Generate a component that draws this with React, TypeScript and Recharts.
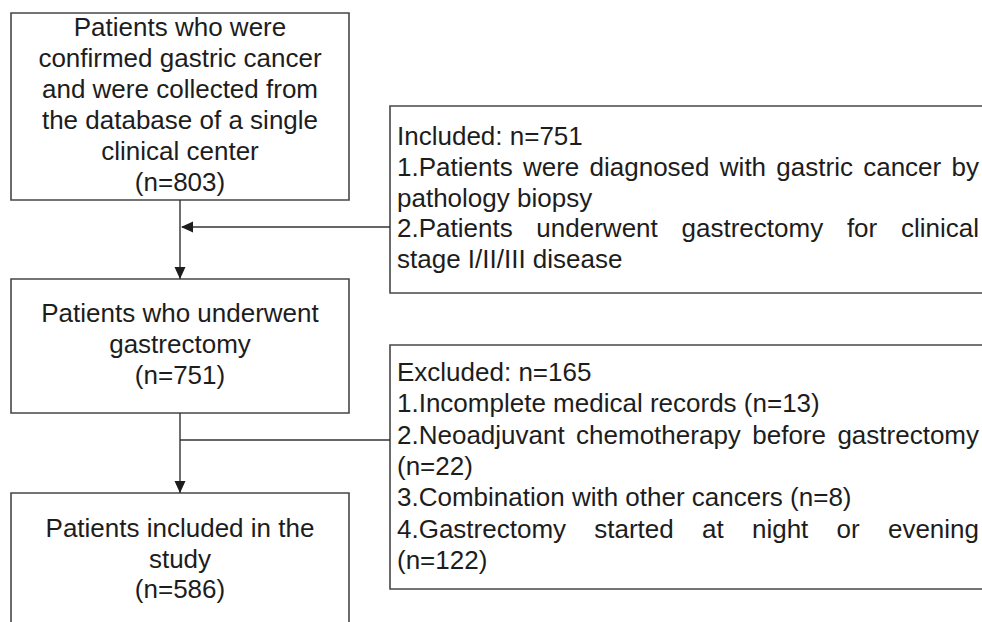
import React from 'react';
import { ComposedChart, XAxis, YAxis, ReferenceArea, ReferenceLine, Scatter } from 'recharts';

const W = 982;
const H = 622;

// ---- text content ----
const box1Lines = ['Patients who were', 'confirmed gastric cancer', 'and were collected from', 'the database of a single', 'clinical center', '(n=803)'];
const box2Lines = ['Patients who underwent', 'gastrectomy', '(n=751)'];
const box3Lines = ['Patients included in the', 'study', '(n=586)'];
const includedLines = ['Included: n=751', '1.Patients were diagnosed with gastric cancer by', 'pathology biopsy', '2.Patients underwent gastrectomy for clinical', 'stage I/II/III disease'];
const includedJustify = [false, true, false, true, false];
const excludedLines = ['Excluded: n=165', '1.Incomplete medical records (n=13)', '2.Neoadjuvant chemotherapy before gastrectomy', '(n=22)', '3.Combination with other cancers (n=8)', '4.Gastrectomy started at night or evening', '(n=122)'];
const excludedJustify = [false, false, true, false, false, true, false];

// ---- layout ----
const boxes = [
  { x1: 11, x2: 349, y1: 13, y2: 200 },
  { x1: 11, x2: 349, y1: 279, y2: 413 },
  { x1: 11, x2: 349, y1: 493, y2: 660 },
  { x1: 390, x2: 1010, y1: 106, y2: 293 },
  { x1: 390, x2: 1010, y1: 345, y2: 589 },
];
const segments = [
  [{ x: 180, y: 200 }, { x: 180, y: 279 }],
  [{ x: 182, y: 227 }, { x: 390, y: 227 }],
  [{ x: 180, y: 413 }, { x: 180, y: 493 }],
  [{ x: 180, y: 440 }, { x: 390, y: 440 }],
];
const arrowHeads = [
  { x: 181, y: 227, dir: 'left' },
  { x: 180, y: 279, dir: 'down' },
  { x: 180, y: 493, dir: 'down' },
];

const CENTER_X = 180;
const LEFT_TEXT_X = 397;
const JUSTIFY_RIGHT = 979;
const BIG_FONT = 26;
const SMALL_FONT = 26;
const FONT_FAMILY = '"Liberation Sans", Arial, sans-serif';

const centerText = (lines: string[], firstBaseline: number, step: number) =>
  lines.map((t, i) => ({ x: CENTER_X, y: firstBaseline + i * step, text: t, anchor: 'middle', size: BIG_FONT, justify: false }));
const leftText = (lines: string[], just: boolean[], firstBaseline: number, step: number) =>
  lines.map((t, i) => ({ x: LEFT_TEXT_X, y: firstBaseline + i * step, text: t, anchor: 'start', size: SMALL_FONT, justify: just[i] }));

const textData = [
  ...centerText(box1Lines, 36, 31),
  ...centerText(box2Lines, 322, 31),
  ...centerText(box3Lines, 537, 30.5),
  ...leftText(includedLines, includedJustify, 145, 30.8),
  ...leftText(excludedLines, excludedJustify, 381, 31.3),
];

let ctx: CanvasRenderingContext2D | null = null;
const measure = (s: string, size: number) => {
  if (!ctx) ctx = document.createElement('canvas').getContext('2d');
  if (!ctx) return s.length * size * 0.5;
  ctx.font = `${size}px "Liberation Sans", Arial, sans-serif`;
  return ctx.measureText(s).width;
};

const TextShape = (props: any) => {
  const { cx, cy, payload } = props;
  const common = { fontFamily: FONT_FAMILY, fontSize: payload.size, fill: '#1d1d1d' };
  if (payload.justify) {
    const words: string[] = payload.text.split(' ');
    const widths = words.map((w) => measure(w, payload.size));
    const total = widths.reduce((a, b) => a + b, 0);
    const gap = (JUSTIFY_RIGHT - cx - total) / (words.length - 1);
    let pos = cx;
    return (
      <text y={cy} {...common}>
        {words.map((w, i) => {
          const el = (
            <tspan key={i} x={pos}>
              {w}
            </tspan>
          );
          pos += widths[i] + gap;
          return el;
        })}
      </text>
    );
  }
  return (
    <text x={cx} y={cy} textAnchor={payload.anchor} {...common}>
      {payload.text}
    </text>
  );
};

const ArrowShape = (props: any) => {
  const { cx, cy, payload } = props;
  const L = 12;
  const h = 5.5;
  const pts =
    payload.dir === 'down'
      ? `${cx},${cy} ${cx - h},${cy - L} ${cx + h},${cy - L}`
      : `${cx},${cy} ${cx + L},${cy - h} ${cx + L},${cy + h}`;
  return <polygon points={pts} fill="#1d1d1d" />;
};

export default function App() {
  return (
    <div style={{ position: 'absolute', left: 0, top: 0, width: W, height: H, background: '#fff' }}>
      <ComposedChart width={W} height={H} margin={{ top: 0, right: 0, bottom: 0, left: 0 }}>
        <XAxis type="number" dataKey="x" domain={[0, W]} allowDataOverflow hide />
        <YAxis type="number" dataKey="y" domain={[0, H]} reversed allowDataOverflow hide />
        {boxes.map((b, i) => (
          <ReferenceArea
            key={`b${i}`}
            x1={b.x1}
            x2={b.x2}
            y1={b.y1}
            y2={b.y2}
            fill="#ffffff"
            fillOpacity={1}
            stroke="#474747"
            strokeWidth={1.6}
            ifOverflow="hidden"
          />
        ))}
        {segments.map((s, i) => (
          <ReferenceLine key={`s${i}`} segment={s} stroke="#333333" strokeWidth={1.4} ifOverflow="visible" />
        ))}
        <Scatter data={arrowHeads} shape={<ArrowShape />} isAnimationActive={false} />
        <Scatter data={textData} shape={<TextShape />} isAnimationActive={false} />
      </ComposedChart>
    </div>
  );
}
